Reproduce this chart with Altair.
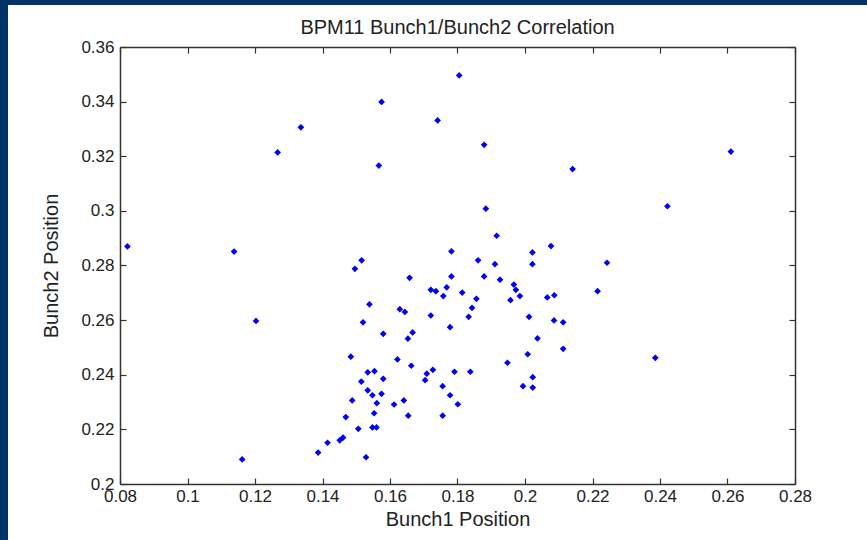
import altair as alt
import pandas as pd

bunch1 = [0.0822, 0.1138, 0.1267, 0.1336, 0.1575, 0.1567, 0.1741, 0.1516, 0.1496, 0.1782,
          0.1805, 0.1879, 0.2141, 0.2610, 0.1884, 0.2422, 0.1916, 0.2077, 0.1861, 0.1911,
          0.2022, 0.2022, 0.2243, 0.1782, 0.1879, 0.1768, 0.1758, 0.1814, 0.1926, 0.1967,
          0.1973, 0.1985, 0.1957, 0.1856, 0.1843, 0.1833, 0.1778, 0.2066, 0.2087, 0.2215,
          0.2012, 0.2086, 0.2113, 0.2037, 0.2113, 0.2008, 0.1948, 0.2386, 0.1791, 0.1838,
          0.2023, 0.1994, 0.2023, 0.1756, 0.1778, 0.1801, 0.1756, 0.1658, 0.1539, 0.1520,
          0.1203, 0.1629, 0.1644, 0.1721, 0.1736, 0.1721, 0.1580, 0.1667, 0.1653, 0.1484,
          0.1622, 0.1663, 0.1727, 0.1709, 0.1704, 0.1534, 0.1554, 0.1515, 0.1580, 0.1534,
          0.1548, 0.1575, 0.1561, 0.1488, 0.1612, 0.1641, 0.1469, 0.1553, 0.1654, 0.1506,
          0.1548, 0.1560, 0.1461, 0.1451, 0.1415, 0.1387, 0.1162, 0.1529]
bunch2 = [0.2870, 0.2851, 0.3214, 0.3306, 0.3399, 0.3166, 0.3331, 0.2819, 0.2788, 0.2852,
          0.3496, 0.3242, 0.3153, 0.3217, 0.3008, 0.3017, 0.2909, 0.2871, 0.2819, 0.2805,
          0.2848, 0.2805, 0.2810, 0.2760, 0.2760, 0.2720, 0.2688, 0.2701, 0.2748, 0.2730,
          0.2711, 0.2688, 0.2673, 0.2678, 0.2645, 0.2612, 0.2574, 0.2683, 0.2691, 0.2706,
          0.2612, 0.2599, 0.2592, 0.2533, 0.2495, 0.2475, 0.2444, 0.2462, 0.2411, 0.2411,
          0.2391, 0.2358, 0.2353, 0.2358, 0.2325, 0.2292, 0.2250, 0.2755, 0.2658, 0.2592,
          0.2597, 0.2640, 0.2630, 0.2711, 0.2706, 0.2617, 0.2550, 0.2555, 0.2532, 0.2466,
          0.2456, 0.2433, 0.2418, 0.2404, 0.2380, 0.2409, 0.2413, 0.2375, 0.2385, 0.2343,
          0.2325, 0.2330, 0.2296, 0.2306, 0.2291, 0.2306, 0.2245, 0.2259, 0.2250, 0.2202,
          0.2207, 0.2207, 0.2170, 0.2160, 0.2151, 0.2115, 0.2090, 0.2098]

x_ticks = [0.08, 0.10, 0.12, 0.14, 0.16, 0.18, 0.20, 0.22, 0.24, 0.26, 0.28]
y_ticks = [0.20, 0.22, 0.24, 0.26, 0.28, 0.30, 0.32, 0.34, 0.36]

df = pd.DataFrame({"b1": bunch1, "b2": bunch2})

W, H = 675, 437
TK = 6
PANEL_TOP = 42
FONT = "Liberation Sans"
AX = "#333333"

xs = alt.Scale(domain=[0.08, 0.28], nice=False, zero=False)
ys = alt.Scale(domain=[0.20, 0.36], nice=False, zero=False)

panel = alt.Chart(pd.DataFrame({"k": [0]})).mark_rect(color="white").encode(
    x=alt.value(-112), x2=alt.value(W + 72), y=alt.value(-PANEL_TOP), y2=alt.value(H + 56)
)

pts = alt.Chart(df).mark_point(shape="diamond", filled=True, color="#0000f0", size=45, opacity=1).encode(
    x=alt.X("b1:Q", scale=xs, title="Bunch1 Position",
            axis=alt.Axis(orient="bottom", values=x_ticks, format="~g", ticks=False, grid=False,
                          domain=True, domainColor=AX, domainWidth=1.5, labelPadding=4,
                          labelFontSize=17, titleFontSize=20, titleFontWeight="normal",
                          titlePadding=5, labelColor="#222", titleColor="#222", zindex=1,
                          labelFlush=False)),
    y=alt.Y("b2:Q", scale=ys, title="Bunch2 Position",
            axis=alt.Axis(orient="left", values=y_ticks, format="~g", ticks=False, grid=False,
                          domain=True, domainColor=AX, domainWidth=1.5, labelPadding=6,
                          labelFontSize=17, titleFontSize=20, titleFontWeight="normal",
                          titlePadding=19, labelColor="#222", titleColor="#222", zindex=1,
                          labelFlush=False)),
)


def tick_layer(xoff, yoff, dom):
    return alt.Chart(df).mark_point(opacity=0).encode(
        x=alt.X("b1:Q", scale=xs, title=None,
                axis=alt.Axis(orient="bottom", offset=xoff, values=x_ticks, labels=False, grid=False,
                              domain=dom, domainColor=AX, domainWidth=1.5,
                              ticks=True, tickSize=TK, tickColor=AX, tickWidth=1.2, zindex=1)),
        y=alt.Y("b2:Q", scale=ys, title=None,
                axis=alt.Axis(orient="left", offset=yoff, values=y_ticks, labels=False, grid=False,
                              domain=dom, domainColor=AX, domainWidth=1.5,
                              ticks=True, tickSize=TK, tickColor=AX, tickWidth=1.2, zindex=1)),
    )


chart = alt.layer(
    panel, pts, tick_layer(-TK, -TK, False), tick_layer(-H, -W, True)
).resolve_axis(x="independent", y="independent").properties(
    width=W, height=H,
    title=alt.TitleParams("BPM11 Bunch1/Bunch2 Correlation", fontSize=20, fontWeight="normal",
                          font=FONT, color="#222", offset=9, dy=PANEL_TOP),
    autosize=alt.AutoSizeParams(type="none"),
    padding={"left": 120, "top": 47, "right": 72, "bottom": 56},
    background="#003467",
).configure(font=FONT).configure_view(stroke=None)

chart.save("out.html", embed_options={"renderer": "svg", "actions": False})
